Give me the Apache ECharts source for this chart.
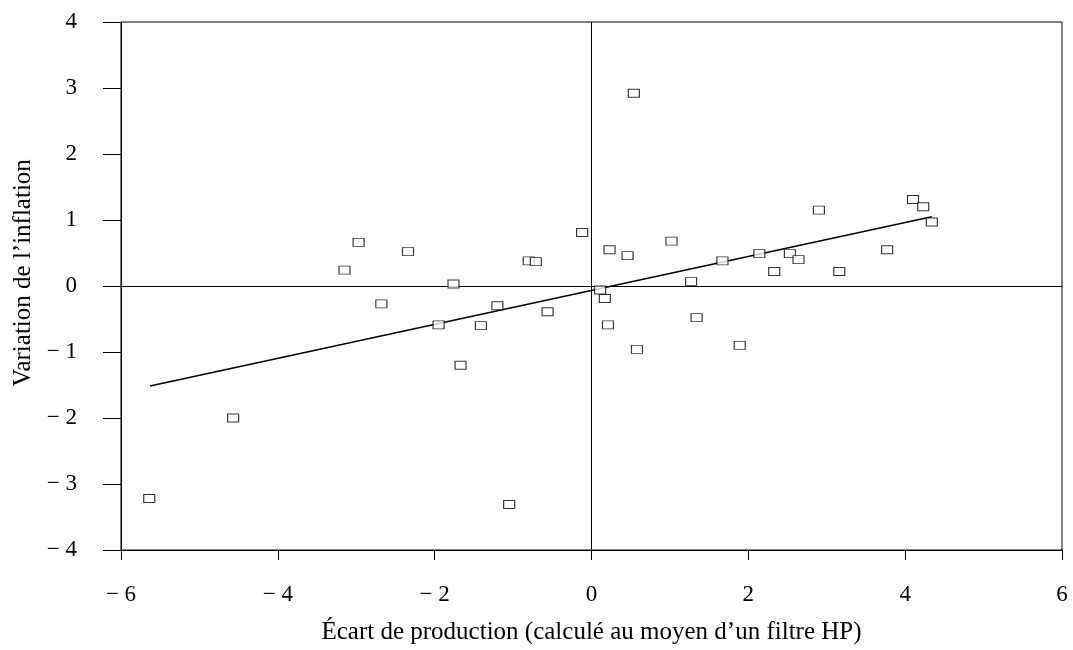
<!DOCTYPE html>
<html>
<head>
<meta charset="utf-8">
<script src="https://cdn.jsdelivr.net/npm/echarts@6/dist/echarts.min.js"></script>
<style>
  html, body { margin: 0; padding: 0; background: #fff; }
  #chart { width: 1073px; height: 650px; }
</style>
</head>
<body>
<div id="chart"></div>
<script>
// écart de production (x) et variation de l'inflation (y)
const gapX = [-5.64, -4.57, -3.15, -2.97, -2.68, -2.34, -1.95, -1.76, -1.67, -1.41,
  -1.20, -1.05, -0.80, -0.71, -0.56, -0.12, 0.11, 0.17, 0.21, 0.23,
  0.46, 0.54, 0.58, 1.02, 1.27, 1.34, 1.67, 1.89, 2.14, 2.33,
  2.53, 2.64, 2.90, 3.16, 3.77, 4.10, 4.23, 4.34];
const inflY = [-3.22, -2.00, 0.24, 0.66, -0.27, 0.52, -0.59, 0.03, -1.20, -0.60,
  -0.30, -3.31, 0.38, 0.37, -0.39, 0.81, -0.06, -0.19, -0.59, 0.55,
  0.46, 2.92, -0.96, 0.68, 0.07, -0.48, 0.38, -0.90, 0.49, 0.22,
  0.49, 0.40, 1.15, 0.22, 0.55, 1.31, 1.20, 0.97];
// droite de régression (extrémités)
const fitX = [-5.63, 4.34];
const fitY = [-1.515, 1.05];

const FONT = 'Liberation Serif';

function fmtTick(v) {
  return v < 0 ? '\u2212 ' + Math.abs(v) : String(v);
}

const chart = echarts.init(document.getElementById('chart'), null, { renderer: 'canvas' });

let option = {
  backgroundColor: '#fff',
  animation: false,
  grid: {
    left: 121,
    right: 11,
    top: 22,
    bottom: 99,
    show: true,
    borderColor: '#000',
    borderWidth: 1
  },
  xAxis: {
    type: 'value',
    min: -6,
    max: 6,
    interval: 2,
    name: 'Écart de production (calculé au moyen d’un filtre HP)',
    nameLocation: 'middle',
    nameGap: 70,
    nameTextStyle: { fontFamily: FONT, fontSize: 25, color: '#000' },
    axisLine: { onZero: false, lineStyle: { color: '#000', width: 1 } },
    axisTick: { inside: false, length: 10, lineStyle: { color: '#000' } },
    axisLabel: { formatter: fmtTick, fontFamily: FONT, fontSize: 23, color: '#000', margin: 33 },
    splitLine: { show: false }
  },
  yAxis: {
    type: 'value',
    min: -4,
    max: 4,
    interval: 1,
    name: 'Variation de l’inflation',
    nameLocation: 'middle',
    nameGap: 80,
    nameTextStyle: { fontFamily: FONT, fontSize: 25, color: '#000', padding: [0, 0, 0, 26] },
    axisLine: { onZero: false, lineStyle: { color: '#000', width: 1 } },
    axisTick: { inside: false, length: 18, lineStyle: { color: '#000' } },
    axisLabel: { formatter: fmtTick, fontFamily: FONT, fontSize: 23, color: '#000', margin: 44 },
    splitLine: { show: false }
  },
  series: [
    {
      type: 'scatter',
      data: gapX.map((x, i) => [x, inflY[i]]),
      symbol: 'rect',
      symbolSize: [11, 8],
      itemStyle: { color: '#fff', borderColor: '#000', borderWidth: 1 },
      z: 5,
      markLine: {
        silent: true,
        symbol: 'none',
        label: { show: false },
        lineStyle: { color: '#000', width: 1, type: 'solid' },
        data: [{ xAxis: 0 }, { yAxis: 0 }]
      }
    },
    {
      type: 'line',
      data: fitX.map((x, i) => [x, fitY[i]]),
      showSymbol: false,
      lineStyle: { color: '#000', width: 1.5 },
      z: 4
    }
  ]
};

chart.setOption(option);
</script>
</body>
</html>
